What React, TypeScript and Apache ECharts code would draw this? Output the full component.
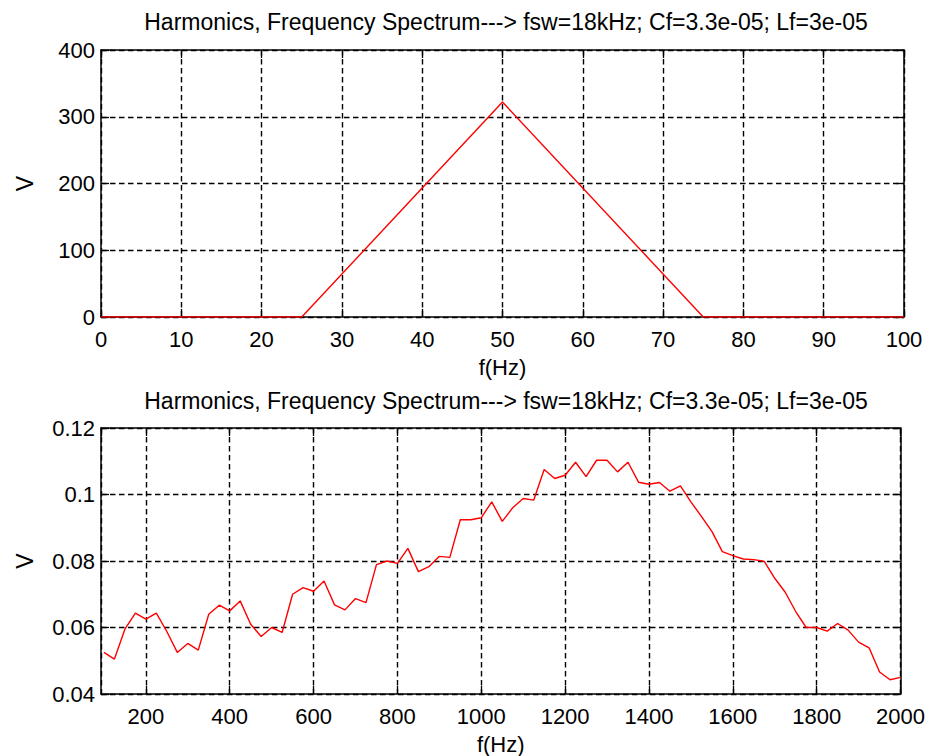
import React, { useEffect, useRef } from 'react';
import * as echarts from 'echarts';

const TITLE = 'Harmonics, Frequency Spectrum---> fsw=18kHz; Cf=3.3e-05; Lf=3e-05';
const X_NAME = 'f(Hz)';
const Y_NAME = 'V';

// Top subplot: fundamental region
const fundFreq = [0, 25, 50, 75, 100];
const fundVals = [0, 0, 322, 0, 0];

// Bottom subplot: harmonic spectrum
const harmFreq = [
  100, 125, 150, 175, 200, 225, 250, 275, 300, 325, 350, 375, 400, 425, 450, 475,
  500, 525, 550, 575, 600, 625, 650, 675, 700, 725, 750, 775, 800, 825, 850, 875,
  900, 925, 950, 975, 1000, 1025, 1050, 1075, 1100, 1125, 1150, 1175, 1200, 1225,
  1250, 1275, 1300, 1325, 1350, 1375, 1400, 1425, 1450, 1475, 1500, 1525, 1550,
  1575, 1600, 1625, 1650, 1675, 1700, 1725, 1750, 1775, 1800, 1825, 1850, 1875,
  1900, 1925, 1950, 1975, 2000,
];
const harmVals = [
  0.0525, 0.0505, 0.0595, 0.0643, 0.0625, 0.0643, 0.0588, 0.0525, 0.0552, 0.0532,
  0.064, 0.0667, 0.065, 0.068, 0.061, 0.0573, 0.06, 0.0585, 0.07, 0.072, 0.0709,
  0.074, 0.0668, 0.0653, 0.0687, 0.0675, 0.0789, 0.08, 0.0793, 0.0838, 0.0768,
  0.0783, 0.0814, 0.0811, 0.0924, 0.0924, 0.093, 0.0978, 0.0919, 0.096, 0.0988,
  0.0983, 0.1075, 0.1048, 0.1058, 0.1097, 0.1054, 0.1103, 0.1103, 0.1068, 0.1097,
  0.1037, 0.1031, 0.1036, 0.101, 0.1026, 0.0978, 0.0934, 0.0889, 0.0828, 0.0816,
  0.0806, 0.0804, 0.0799, 0.0748, 0.0706, 0.0648, 0.06, 0.06, 0.0589, 0.0612,
  0.0592, 0.0556, 0.0539, 0.0466, 0.0443, 0.045,
];

const FONT = '"Liberation Sans", Arial, sans-serif';
const FS = 22;
const FS_TITLE = 23;
const BLACK = '#000';

const axisLineStyle = { show: true, onZero: false, lineStyle: { color: BLACK, width: 1.5 } };
const tickStyle = { show: true, inside: true, length: 8, lineStyle: { color: BLACK, width: 1.3 } };
const gridLineStyle = { show: true, lineStyle: { color: BLACK, width: 1.4, type: [5.5, 3.5] as number[] } };
const labelStyle = { color: BLACK, fontFamily: FONT, fontSize: FS };

export default function App() {
  const ref = useRef<HTMLDivElement>(null);
  useEffect(() => {
    if (!ref.current) return;
    const chart = echarts.init(ref.current, undefined, { renderer: 'svg' });
    const option: any = {
      animation: false,
      backgroundColor: '#fff',
      textStyle: { fontFamily: FONT },
      title: [
        {
          text: TITLE,
          left: 501,
          top: 5,
          textAlign: 'center',
          textStyle: { color: BLACK, fontFamily: FONT, fontSize: FS_TITLE, fontWeight: 'normal' },
        },
        {
          text: TITLE,
          left: 501,
          top: 384,
          textAlign: 'center',
          textStyle: { color: BLACK, fontFamily: FONT, fontSize: FS_TITLE, fontWeight: 'normal' },
        },
      ],
      grid: [
        { left: 101, right: 24, top: 50, height: 267, containLabel: false },
        { left: 101, right: 25, top: 428, height: 267, containLabel: false },
      ],
      xAxis: [
        {
          gridIndex: 0, type: 'value', position: 'bottom', min: 0, max: 100, interval: 10,
          axisLine: axisLineStyle, axisTick: tickStyle, splitLine: gridLineStyle,
          axisLabel: { ...labelStyle, margin: 11 },
          name: X_NAME, nameLocation: 'middle', nameGap: 39,
          nameTextStyle: { color: BLACK, fontFamily: FONT, fontSize: FS },
        },
        {
          gridIndex: 0, type: 'value', position: 'top', min: 0, max: 100, interval: 10,
          axisLine: axisLineStyle, axisTick: tickStyle, splitLine: { show: false },
          axisLabel: { show: false },
        },
        {
          gridIndex: 1, type: 'value', position: 'bottom', min: 93, max: 2000, splitNumber: 10,
          axisLine: axisLineStyle, axisTick: tickStyle, splitLine: gridLineStyle,
          axisLabel: {
            ...labelStyle, margin: 11, showMinLabel: false,
            formatter: (v: number) => (v % 200 === 0 ? String(v) : ''),
          },
          name: X_NAME, nameLocation: 'middle', nameGap: 39,
          nameTextStyle: { color: BLACK, fontFamily: FONT, fontSize: FS },
        },
        {
          gridIndex: 1, type: 'value', position: 'top', min: 93, max: 2000, splitNumber: 10,
          axisLine: axisLineStyle, axisTick: tickStyle, splitLine: { show: false },
          axisLabel: { show: false },
        },
      ],
      yAxis: [
        {
          gridIndex: 0, type: 'value', position: 'left', min: 0, max: 400, interval: 100,
          axisLine: axisLineStyle, axisTick: tickStyle, splitLine: gridLineStyle,
          axisLabel: { ...labelStyle, margin: 6 },
          name: Y_NAME, nameLocation: 'middle', nameGap: 65,
          nameTextStyle: { color: BLACK, fontFamily: FONT, fontSize: FS_TITLE },
        },
        {
          gridIndex: 0, type: 'value', position: 'right', min: 0, max: 400, interval: 100,
          axisLine: axisLineStyle, axisTick: tickStyle, splitLine: { show: false },
          axisLabel: { show: false },
        },
        {
          gridIndex: 1, type: 'value', position: 'left', min: 0.04, max: 0.12, interval: 0.02,
          axisLine: axisLineStyle, axisTick: tickStyle, splitLine: gridLineStyle,
          axisLabel: { ...labelStyle, margin: 6 },
          name: Y_NAME, nameLocation: 'middle', nameGap: 65,
          nameTextStyle: { color: BLACK, fontFamily: FONT, fontSize: FS_TITLE },
        },
        {
          gridIndex: 1, type: 'value', position: 'right', min: 0.04, max: 0.12, interval: 0.02,
          axisLine: axisLineStyle, axisTick: tickStyle, splitLine: { show: false },
          axisLabel: { show: false },
        },
      ],
      series: [
        {
          type: 'line', xAxisIndex: 0, yAxisIndex: 0, z: 5,
          data: fundFreq.map((f, i) => [f, fundVals[i]]),
          symbol: 'none', showSymbol: false,
          lineStyle: { color: '#ff0000', width: 1.4 }, itemStyle: { color: '#ff0000' },
        },
        {
          type: 'line', xAxisIndex: 2, yAxisIndex: 2, z: 5,
          data: harmFreq.map((f, i) => [f, harmVals[i]]),
          symbol: 'none', showSymbol: false,
          lineStyle: { color: '#ff0000', width: 1.4 }, itemStyle: { color: '#ff0000' },
        },
      ],
    };
    chart.setOption(option);
    return () => chart.dispose();
  }, []);
  return (
    <div
      ref={ref}
      style={{ position: 'fixed', left: 0, top: 0, width: 928, height: 756, background: '#fff' }}
    />
  );
}
